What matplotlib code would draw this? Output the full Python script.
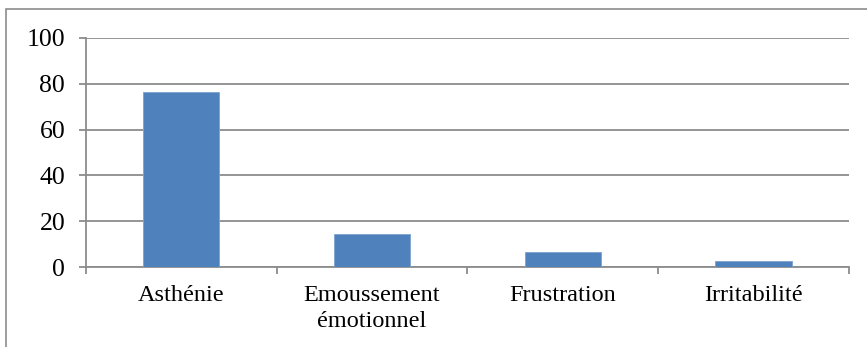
import numpy as np
import matplotlib.pyplot as plt
from matplotlib.patches import Rectangle

categories = ["Asthénie", "Emoussement\némotionnel", "Frustration", "Irritabilité"]
values = [76.5, 14.2, 6.4, 2.5]
y_ticks = [0, 20, 40, 60, 80, 100]

plt.rcParams['font.family'] = ['Liberation Serif', 'DejaVu Serif']
grid_col = '#8c8c8c'

fig = plt.figure(figsize=(8.67, 3.47), dpi=100)
ax = fig.add_axes([0.0992, 0.2305, 0.8798, 0.66])

x = np.arange(len(categories))
ax.bar(x, values, width=0.4, color='#4f81bd', edgecolor='#7ea3cf', linewidth=0.6, zorder=3)

ax.set_xlim(-0.5, len(categories) - 0.5)
ax.set_ylim(0, 100)
ax.set_yticks(y_ticks)
ax.yaxis.grid(True, color=grid_col, linewidth=1.3, zorder=0)

# boundary ticks without labels, category labels on minor ticks
ax.set_xticks(np.arange(len(categories) + 1) - 0.5)
ax.set_xticklabels([])
ax.set_xticks(x, minor=True)
ax.set_xticklabels(categories, minor=True, fontsize=17.5, linespacing=1.3)
ax.tick_params(axis='x', which='major', direction='out', length=5, width=1.3, color=grid_col)
ax.tick_params(axis='x', which='minor', length=0, pad=13)
ax.tick_params(axis='y', direction='out', length=5, width=1.3, color=grid_col, labelsize=18.5, pad=10)

for s in ['top', 'right']:
    ax.spines[s].set_visible(False)
for s in ['left', 'bottom']:
    ax.spines[s].set_color(grid_col)
    ax.spines[s].set_linewidth(1.3)

# outer chart frame
fig.patches.append(Rectangle((6 / 867, -0.5), 2, 0.5 + 1 - 9 / 347, transform=fig.transFigure,
                             fill=False, edgecolor='#8c8c8c', linewidth=1.2))

fig.savefig('out.png', dpi=100)
